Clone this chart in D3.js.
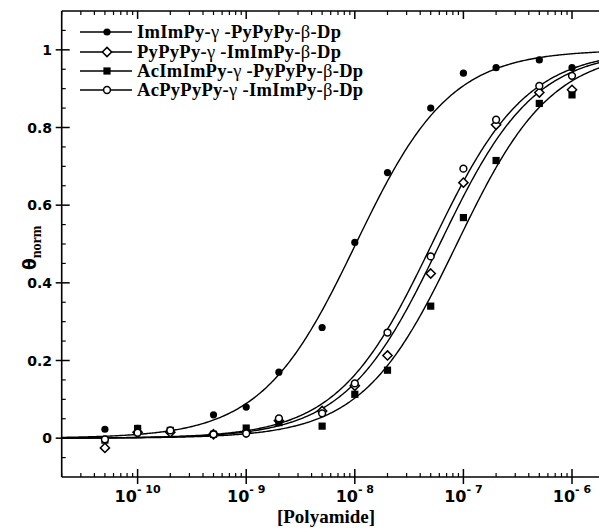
<!DOCTYPE html>
<html>
<head>
<meta charset="utf-8">
<script src="https://cdn.jsdelivr.net/npm/d3@7"></script>
<style>
  body { margin: 0; background: #fff; }
  svg { display: block; }
</style>
</head>
<body>
<div class="canvas"></div>
<script>
// concentrations (M)
let conc = [5e-11, 1e-10, 2e-10, 5e-10, 1e-9, 2e-9, 5e-9, 1e-8, 2e-8, 5e-8, 1e-7, 2e-7, 5e-7, 1e-6];

let seriesNames = ['ImImPy', 'PyPyPy', 'AcImImPy', 'AcPyPyPy'];
let seriesTails = ['PyPyPy', 'ImImPy', 'PyPyPy', 'ImImPy'];
let markerTypes = ['dot', 'diamond', 'square', 'circle'];

let imimpyVals   = [0.023, 0.025, 0.020, 0.060, 0.080, 0.170, 0.285, 0.504, 0.684, 0.850, 0.940, 0.954, 0.974, 0.954];
let pypypyVals   = [-0.025, 0.015, 0.015, 0.010, 0.015, 0.045, 0.070, 0.135, 0.213, 0.424, 0.658, 0.807, 0.890, 0.897];
let acimimpyVals = [-0.005, 0.025, 0.020, 0.010, 0.026, 0.040, 0.031, 0.113, 0.175, 0.340, 0.568, 0.715, 0.862, 0.884];
let acpypypyVals = [-0.003, 0.014, 0.020, 0.010, 0.012, 0.051, 0.064, 0.141, 0.272, 0.468, 0.694, 0.820, 0.907, 0.933];

// Langmuir fit constants (M^-1) of the drawn curves
let fitK = [9.8e7, 1.65e7, 1.15e7, 1.95e7];

let xTicks = [1e-10, 1e-9, 1e-8, 1e-7, 1e-6];
let xTickExp = ['-10', '-9', '-8', '-7', '-6'];
let yTicks = [0, 0.2, 0.4, 0.6, 0.8, 1];
let yTickLabels = ['0', '0.2', '0.4', '0.6', '0.8', '1'];

let width = 599, height = 529;
const plot = { left: 61.7, top: 11, right: 604.7, bottom: 477 };

let svg = d3.select('.canvas').append('svg')
  .attr('width', width).attr('height', height);

let xScale = d3.scaleLog().domain([2e-11, 2e-6]).range([plot.left, plot.right]);
let yScale = d3.scaleLinear().domain([-0.1, 1.1]).range([plot.bottom, plot.top]);

let allVals = [imimpyVals, pypypyVals, acimimpyVals, acpypypyVals];

// fitted curves
let curveX = d3.range(0, 401).map(i => Math.pow(10, -10.699 + i * 5 / 400));
let line = d3.line().x(d => xScale(d[0])).y(d => yScale(d[1]));
let curves = svg.append('g').attr('class', 'curves');
fitK.forEach(k => {
  curves.append('path')
    .attr('d', line(curveX.map(c => [c, k * c / (1 + k * c)])))
    .attr('fill', 'none')
    .attr('stroke', '#000')
    .attr('stroke-width', 1.4);
});

function drawMarker(g, type, x, y) {
  if (type == 'dot') {
    g.append('circle').attr('cx', x).attr('cy', y).attr('r', 3.6).attr('fill', '#000');
  } else if (type == 'circle') {
    g.append('circle').attr('cx', x).attr('cy', y).attr('r', 3.4)
      .attr('fill', '#fff').attr('stroke', '#000').attr('stroke-width', 1.5);
  } else if (type == 'square') {
    g.append('rect').attr('x', x - 3.6).attr('y', y - 3.6).attr('width', 7.2).attr('height', 7.2).attr('fill', '#000');
  } else {
    let s = 4.6;
    g.append('path').attr('d', `M${x},${y - s}L${x + s},${y}L${x},${y + s}L${x - s},${y}Z`)
      .attr('fill', '#fff').attr('stroke', '#000').attr('stroke-width', 1.5);
  }
}

let points = svg.append('g').attr('class', 'points');
allVals.forEach((vals, si) => {
  vals.forEach((v, i) => drawMarker(points, markerTypes[si], xScale(conc[i]), yScale(v)));
});

// frame (right side runs off the canvas)
let frame = svg.append('g').attr('stroke', '#000').attr('stroke-width', 1.6).attr('fill', 'none');
frame.append('line').attr('x1', plot.left).attr('x2', plot.left).attr('y1', plot.top).attr('y2', plot.bottom);
frame.append('line').attr('x1', plot.left).attr('x2', plot.right).attr('y1', plot.bottom).attr('y2', plot.bottom);
frame.append('line').attr('x1', plot.left).attr('x2', plot.right).attr('y1', plot.top).attr('y2', plot.top);

// y ticks
let yMinor = d3.range(-0.05, 1.1, 0.05).filter(v => Math.abs(v * 5 - Math.round(v * 5)) > 0.01);
let ticks = svg.append('g').attr('stroke', '#000');
yMinor.forEach(v => {
  ticks.append('line').attr('x1', plot.left).attr('x2', plot.left + 4)
    .attr('y1', yScale(v)).attr('y2', yScale(v)).attr('stroke-width', 1.2);
});
yTicks.forEach(v => {
  ticks.append('line').attr('x1', plot.left - 6).attr('x2', plot.left + 8)
    .attr('y1', yScale(v)).attr('y2', yScale(v)).attr('stroke-width', 1.5);
});
svg.append('g').selectAll('text').data(yTicks).enter().append('text')
  .attr('x', 52).attr('y', d => yScale(d)).attr('dy', '0.36em')
  .attr('text-anchor', 'end')
  .style('font-family', 'DejaVu Sans').style('font-weight', 'bold').style('font-size', '14px')
  .text((d, i) => yTickLabels[i]);

// x ticks
let xMinor = [];
[-11, -10, -9, -8, -7, -6].forEach(e => {
  for (let m = 2; m <= 9; m++) {
    let v = m * Math.pow(10, e);
    if (v >= 2e-11 && v <= 2e-6) xMinor.push(v);
  }
});
xMinor.forEach(v => {
  ticks.append('line').attr('x1', xScale(v)).attr('x2', xScale(v))
    .attr('y1', plot.bottom).attr('y2', plot.bottom - 4).attr('stroke-width', 1.2);
  ticks.append('line').attr('x1', xScale(v)).attr('x2', xScale(v))
    .attr('y1', plot.top).attr('y2', plot.top + 4).attr('stroke-width', 1.2);
});
xTicks.forEach(v => {
  ticks.append('line').attr('x1', xScale(v)).attr('x2', xScale(v))
    .attr('y1', plot.bottom - 8).attr('y2', plot.bottom + 7).attr('stroke-width', 1.5);
  ticks.append('line').attr('x1', xScale(v)).attr('x2', xScale(v))
    .attr('y1', plot.top).attr('y2', plot.top + 8).attr('stroke-width', 1.5);
});
let xLab = svg.append('g').selectAll('text').data(xTicks).enter().append('text')
  .attr('x', d => xScale(d)).attr('y', 502)
  .attr('text-anchor', 'middle')
  .style('font-family', 'DejaVu Sans').style('font-weight', 'bold').style('font-size', '16px');
xLab.append('tspan').text('10');
xLab.append('tspan').attr('dy', -9).style('font-size', '11px').text((d, i) => xTickExp[i].replace('-', '- '));

// axis titles
svg.append('text')
  .attr('x', 326).attr('y', 523)
  .attr('text-anchor', 'middle')
  .style('font-family', 'Liberation Serif').style('font-weight', 'bold').style('font-size', '19px')
  .text('[Polyamide]');

let yTitle = svg.append('text')
  .attr('transform', 'translate(36, 270) rotate(-90)')
  .style('font-weight', 'bold');
yTitle.append('tspan').style('font-family', 'DejaVu Sans').style('font-size', '17px').text('θ');
yTitle.append('tspan').attr('dy', 5).style('font-family', 'Liberation Serif').style('font-size', '14px').text('norm');

// legend
let legend = svg.append('g').attr('class', 'legend');
let legendY = [32, 52, 71, 90];
seriesNames.forEach((name, i) => {
  let g = legend.append('g').attr('transform', `translate(0, ${legendY[i]})`);
  g.append('line').attr('x1', 80).attr('x2', 132).attr('y1', 0).attr('y2', 0)
    .attr('stroke', '#000').attr('stroke-width', 1.4);
  drawMarker(g, markerTypes[i], 107, 0);
  let t = g.append('text').attr('x', 137).attr('y', 0).attr('dy', '0.33em')
    .style('font-family', 'Liberation Serif').style('font-weight', 'bold').style('font-size', '18.5px')
    .style('letter-spacing', '0.3px');
  t.append('tspan').text(name + '-');
  t.append('tspan').style('font-weight', 'normal').text('γ');
  t.append('tspan').text(' -' + seriesTails[i] + '-');
  t.append('tspan').style('font-weight', 'normal').text('β');
  t.append('tspan').text('-Dp');
});
</script>
</body>
</html>
